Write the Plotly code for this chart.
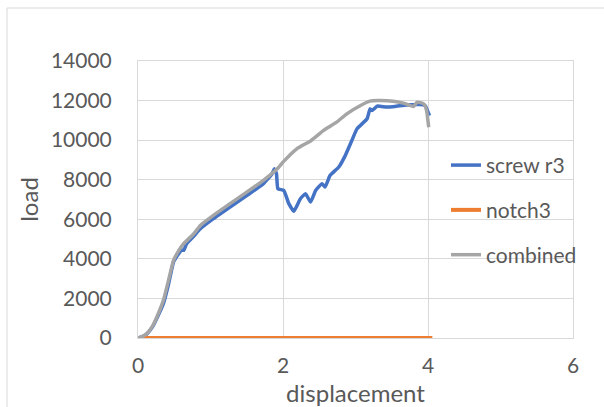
import plotly.graph_objects as go

# screw r3 (blue)
screw_x = [0.0, 0.05, 0.12, 0.20, 0.26, 0.35, 0.42, 0.49, 0.55, 0.60, 0.63, 0.67, 0.77, 0.86, 1.04, 1.27, 1.50, 1.73, 1.85, 1.88, 1.91, 1.93, 2.01, 2.08, 2.15, 2.24, 2.31, 2.38, 2.45, 2.54, 2.58, 2.65, 2.77, 2.86, 2.95, 3.02, 3.16, 3.20, 3.23, 3.30, 3.43, 3.57, 3.71, 3.89, 3.96, 4.02]
screw_y = [0, 60, 200, 560, 1000, 1735, 2700, 3840, 4200, 4450, 4430, 4760, 5150, 5520, 6030, 6620, 7200, 7800, 8300, 8550, 8300, 7540, 7460, 6790, 6410, 7040, 7290, 6870, 7460, 7800, 7630, 8220, 8640, 9230, 9985, 10570, 11080, 11580, 11500, 11720, 11670, 11720, 11780, 11800, 11750, 11240]

# notch3 (orange)
notch_x = [0.0, 1.0, 2.0, 3.0, 4.06]
notch_y = [0, 0, 0, 0, 0]

# combined (gray)
comb_x = [0.0, 0.05, 0.12, 0.20, 0.26, 0.35, 0.42, 0.49, 0.56, 0.63, 0.77, 0.86, 1.04, 1.27, 1.50, 1.73, 1.92, 2.00, 2.19, 2.39, 2.56, 2.74, 2.88, 3.07, 3.20, 3.30, 3.52, 3.66, 3.80, 3.85, 3.94, 3.98, 4.01]
comb_y = [0, 60, 219, 600, 1060, 1900, 2900, 3925, 4400, 4765, 5270, 5690, 6200, 6790, 7375, 7965, 8550, 8890, 9560, 9985, 10490, 10910, 11330, 11750, 11970, 12000, 11970, 11870, 11700, 11920, 11840, 11500, 10650]

x_ticks = [0, 2, 4, 6]
y_ticks = [0, 2000, 4000, 6000, 8000, 10000, 12000, 14000]

FONT = "Lato"
TXT = "#595959"
GRID = "#D9D9D9"

fig = go.Figure()
fig.add_trace(go.Scatter(x=screw_x, y=screw_y, mode="lines", name="screw r3",
                         line=dict(color="#4472C4", width=3.5, shape="spline", smoothing=0.4), legendgroup="a"))
fig.add_trace(go.Scatter(x=notch_x, y=notch_y, mode="lines", name="notch3",
                         line=dict(color="#ED7D31", width=4), legendgroup="b"))
fig.add_trace(go.Scatter(x=comb_x, y=comb_y, mode="lines", name="combined",
                         line=dict(color="#A5A5A5", width=3.5, shape="spline", smoothing=0.4), legendgroup="c"))

fig.update_layout(
    width=604, height=407,
    margin=dict(l=138, r=31, t=61, b=69),
    paper_bgcolor="white", plot_bgcolor="white",
    font=dict(family=FONT, color=TXT, size=20),
    showlegend=True,
    legend=dict(x=0.708, y=0.697, xanchor="left", yanchor="top",
                bgcolor="rgba(0,0,0,0)", font=dict(family=FONT, size=21, color=TXT),
                traceorder="grouped", tracegroupgap=14.5, itemwidth=30),
    xaxis=dict(range=[0, 6], tickvals=x_ticks, ticktext=[str(v) for v in x_ticks],
               showgrid=True, gridcolor=GRID, gridwidth=1, zeroline=False,
               showline=True, linecolor=GRID, linewidth=1, mirror=True, automargin=False,
               ticks="outside", ticklen=9, tickcolor="rgba(0,0,0,0)",
               tickfont=dict(size=21, family=FONT, color=TXT),
               title=dict(text="displacement", font=dict(size=24, family=FONT, color=TXT), standoff=13)),
    yaxis=dict(range=[0, 14000], tickvals=y_ticks, ticktext=[str(v) for v in y_ticks],
               showgrid=True, gridcolor=GRID, gridwidth=1, zeroline=False,
               showline=True, linecolor=GRID, linewidth=1, mirror=True, automargin=False,
               ticks="outside", ticklen=21, tickcolor="rgba(0,0,0,0)",
               tickfont=dict(size=21, family=FONT, color=TXT),
               title=dict(text="load", font=dict(size=24, family=FONT, color=TXT), standoff=5)),
    shapes=[dict(type="rect", xref="paper", yref="paper",
                 x0=(7 - 138) / 435, x1=1.3, y0=-0.4, y1=1 + (61 - 8) / 277,
                 line=dict(color=GRID, width=1), fillcolor="rgba(0,0,0,0)", layer="below")],
)

fig.write_html("out.html")
